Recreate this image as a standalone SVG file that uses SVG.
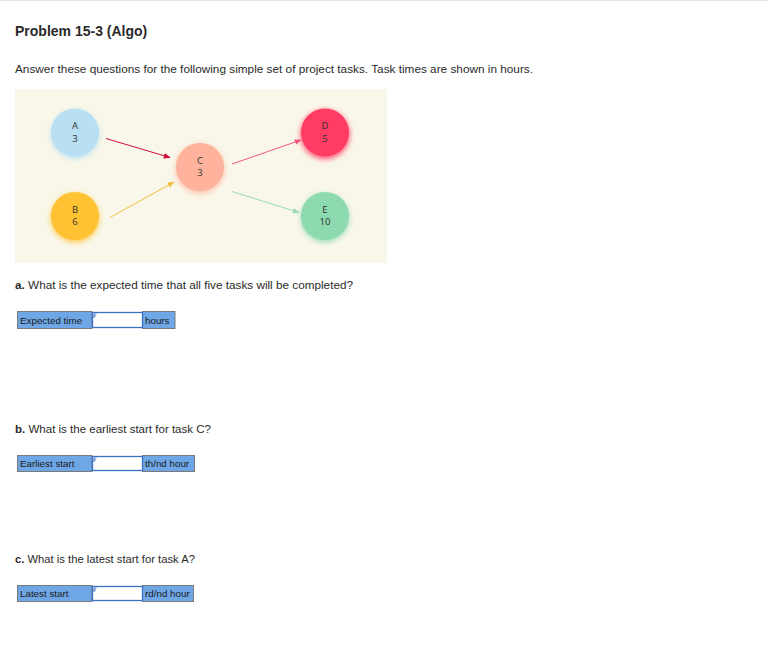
<svg xmlns="http://www.w3.org/2000/svg" width="768" height="663" viewBox="0 0 768 663">
<style>
.t{font-family:"Liberation Sans",Arial,sans-serif;fill:#2a2a2a}
.q{font-size:10.5px}
.lbl{font-family:"Liberation Sans",Arial,sans-serif;font-size:9.8px;fill:#1a1a1a}
.n{font-family:"Open Sans","Noto Sans",sans-serif;font-size:9.5px;fill:#333;text-anchor:middle}
.cell{fill:#6fa7e6;stroke:#7a7a7a;stroke-width:1}
.inp{fill:#fff;stroke:#3b70c6;stroke-width:1.3}
.edge{fill:none;stroke-width:1}
</style>
<defs>
<filter id="glow" x="-50%" y="-50%" width="200%" height="200%">
<feGaussianBlur stdDeviation="2.5"/>
</filter>
<marker id="mA" viewBox="0 0 10 10" refX="9" refY="5" markerWidth="7" markerHeight="7" orient="auto" markerUnits="userSpaceOnUse"><path d="M0,1 L10,5 L0,9 Z" fill="#cf1038"/></marker>
<marker id="mB" viewBox="0 0 10 10" refX="9" refY="5" markerWidth="7" markerHeight="7" orient="auto" markerUnits="userSpaceOnUse"><path d="M0,1 L10,5 L0,9 Z" fill="#f2c040"/></marker>
<marker id="mD" viewBox="0 0 10 10" refX="9" refY="5" markerWidth="7" markerHeight="7" orient="auto" markerUnits="userSpaceOnUse"><path d="M0,1 L10,5 L0,9 Z" fill="#ee5a7c"/></marker>
<marker id="mE" viewBox="0 0 10 10" refX="9" refY="5" markerWidth="7" markerHeight="7" orient="auto" markerUnits="userSpaceOnUse"><path d="M0,1 L10,5 L0,9 Z" fill="#9ad8bb"/></marker>
<g id="cursor"><path d="M1.5,1.5 v4 M1.5,1.5 h2.5 M1.5,3.5 h2" stroke="#3b70c6" stroke-width="0.9" fill="none"/></g>
</defs>
<rect x="0" y="0" width="768" height="663" fill="#fff"/>
<rect x="0" y="0" width="768" height="1.2" fill="#e6e6e6"/>

<text class="t" x="15" y="36" font-size="14" font-weight="bold">Problem 15-3 (Algo)</text>
<text class="t q" x="15" y="73" textLength="518" lengthAdjust="spacingAndGlyphs">Answer these questions for the following simple set of project tasks. Task times are shown in hours.</text>

<rect x="15" y="89" width="372" height="174" fill="#f9f7e9"/>

<g id="connectors">
<line class="edge" x1="106" y1="138.5" x2="170" y2="157.5" stroke="#cf1038" marker-end="url(#mA)"/>
<line class="edge" x1="110" y1="217.5" x2="174" y2="182" stroke="#f2c040" marker-end="url(#mB)"/>
<line class="edge" x1="232" y1="164" x2="301" y2="140" stroke="#ee5a7c" marker-end="url(#mD)"/>
<line class="edge" x1="232" y1="191.5" x2="299" y2="212.5" stroke="#9ad8bb" marker-end="url(#mE)"/>
</g>

<g id="nodeA">
<circle cx="75" cy="134.5" r="24.5" fill="#b8dff2" opacity="0.8" filter="url(#glow)"/>
<circle cx="75" cy="132.5" r="24" fill="#b8dff2"/>
<text class="n" x="75" y="129">A</text><text class="n" x="75" y="141.5">3</text>
</g>
<g id="nodeB">
<circle cx="75" cy="218" r="24.5" fill="#fec233" opacity="0.8" filter="url(#glow)"/>
<circle cx="75" cy="216" r="24" fill="#fec233"/>
<text class="n" x="75" y="212.5">B</text><text class="n" x="75" y="225">6</text>
</g>
<g id="nodeC">
<circle cx="200" cy="169" r="24.5" fill="#ffb39c" opacity="0.8" filter="url(#glow)"/>
<circle cx="200" cy="167" r="24" fill="#ffb39c"/>
<text class="n" x="200" y="163.5">C</text><text class="n" x="200" y="176">3</text>
</g>
<g id="nodeD">
<circle cx="325" cy="134.5" r="25" fill="#ff3c64" opacity="0.8" filter="url(#glow)"/>
<circle cx="325" cy="132.5" r="24" fill="#ff3c64"/>
<text class="n" x="325" y="129">D</text><text class="n" x="325" y="141.5">5</text>
</g>
<g id="nodeE">
<circle cx="325" cy="218" r="24.5" fill="#8dd9b0" opacity="0.8" filter="url(#glow)"/>
<circle cx="325" cy="216" r="24" fill="#8dd9b0"/>
<text class="n" x="325" y="212.5">E</text><text class="n" x="325" y="225">10</text>
</g>

<text class="t q" x="15" y="289" textLength="338" lengthAdjust="spacingAndGlyphs"><tspan font-weight="bold">a.</tspan> What is the expected time that all five tasks will be completed?</text>
<g id="boxA">
<rect class="cell" x="17.5" y="311.5" width="74.5" height="17"/>
<rect class="cell" x="142.5" y="311.5" width="32.5" height="17"/>
<rect class="inp" x="92.5" y="312.5" width="50" height="15"/>
<use href="#cursor" x="92.5" y="312.5"/>
<text class="lbl" x="20" y="323.5">Expected time</text>
<text class="lbl" x="145" y="323.5">hours</text>
</g>

<text class="t q" x="15" y="433" textLength="196" lengthAdjust="spacingAndGlyphs"><tspan font-weight="bold">b.</tspan> What is the earliest start for task C?</text>
<g id="boxB">
<rect class="cell" x="17.5" y="455.5" width="74.5" height="16"/>
<rect class="cell" x="142.5" y="455.5" width="52" height="16"/>
<rect class="inp" x="92.5" y="456.5" width="50" height="14"/>
<use href="#cursor" x="92.5" y="456.5"/>
<text class="lbl" x="20" y="467">Earliest start</text>
<text class="lbl" x="145" y="467">th/nd hour</text>
</g>

<text class="t q" x="15" y="563" textLength="180" lengthAdjust="spacingAndGlyphs"><tspan font-weight="bold">c.</tspan> What is the latest start for task A?</text>
<g id="boxC">
<rect class="cell" x="17.5" y="585.5" width="74.5" height="16"/>
<rect class="cell" x="142.5" y="585.5" width="51" height="16"/>
<rect class="inp" x="92.5" y="586.5" width="50" height="14"/>
<use href="#cursor" x="92.5" y="586.5"/>
<text class="lbl" x="20" y="597">Latest start</text>
<text class="lbl" x="145" y="597">rd/nd hour</text>
</g>
</svg>
